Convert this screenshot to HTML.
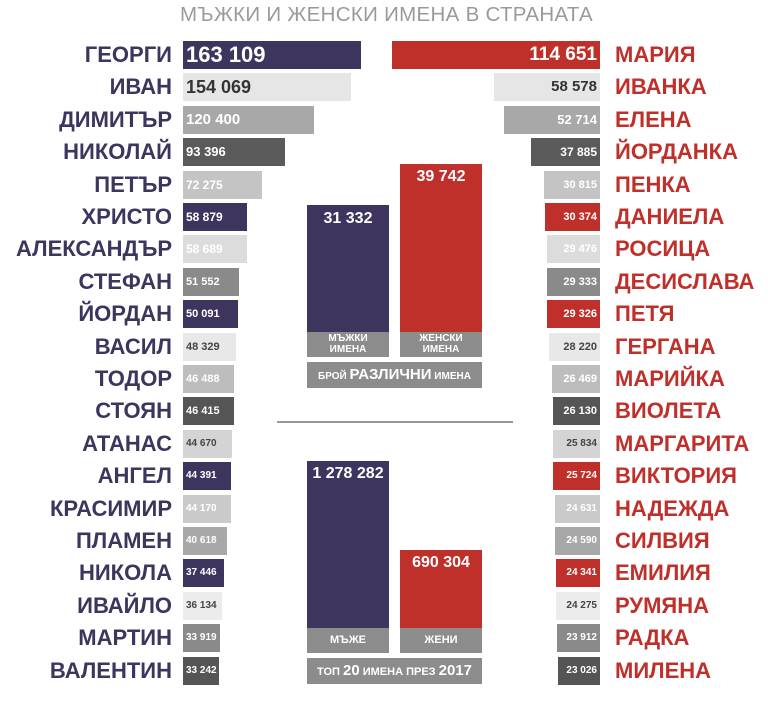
<!DOCTYPE html>
<html><head><meta charset="utf-8"><style>
body{margin:0;background:#fff;width:768px;height:714px;position:relative;overflow:hidden;font-family:"Liberation Sans",sans-serif}
.a{position:absolute}
.n{position:absolute;font-weight:bold;font-size:22px;line-height:28px;white-space:nowrap}
.l{color:#3d355e;text-align:right;right:596px}
.r{color:#c0302b;left:615px}
.b{position:absolute;height:28px;font-weight:bold;line-height:28px;white-space:nowrap;box-sizing:border-box;color:#fff}
.bl{padding-left:3px}
.br{text-align:right;padding-right:3px}
.c{position:absolute;color:#fff;font-weight:bold;text-align:center}
</style></head><body>
<div class="a" style="left:180px;top:3px;font-size:20.5px;color:#9a9a9a;letter-spacing:0.3px">МЪЖКИ И ЖЕНСКИ ИМЕНА В СТРАНАТА</div>
<div id="rows"></div>
<div class="a" style="left:307px;top:205px;width:82px;height:127px;background:#3d355e"></div>
<div class="c" style="left:307px;top:210px;width:82px;font-size:16px">31 332</div>
<div class="a" style="left:400px;top:164px;width:82px;height:168px;background:#c0302b"></div>
<div class="c" style="left:400px;top:168px;width:82px;font-size:16px">39 742</div>
<div class="c" style="left:307px;top:332px;width:82px;height:25px;background:#8c8c8c;font-size:10px;line-height:11px;padding-top:1px;box-sizing:border-box">МЪЖКИ<br>ИМЕНА</div>
<div class="c" style="left:400px;top:332px;width:82px;height:25px;background:#8c8c8c;font-size:10px;line-height:11px;padding-top:1px;box-sizing:border-box">ЖЕНСКИ<br>ИМЕНА</div>
<div class="c" style="left:307px;top:362px;width:175px;height:26px;background:#8c8c8c;font-size:10px;line-height:26px">БРОЙ <span style="font-size:15px">РАЗЛИЧНИ</span> ИМЕНА</div>
<div class="a" style="left:277px;top:421px;width:236px;height:2px;background:#999"></div>
<div class="a" style="left:307px;top:461px;width:82px;height:167px;background:#3d355e"></div>
<div class="c" style="left:307px;top:465px;width:82px;font-size:16px">1 278 282</div>
<div class="a" style="left:400px;top:550px;width:82px;height:78px;background:#c0302b"></div>
<div class="c" style="left:400px;top:554px;width:82px;font-size:16px">690 304</div>
<div class="c" style="left:307px;top:628px;width:82px;height:25px;background:#8c8c8c;font-size:11px;line-height:25px">МЪЖЕ</div>
<div class="c" style="left:400px;top:628px;width:82px;height:25px;background:#8c8c8c;font-size:11px;line-height:25px">ЖЕНИ</div>
<div class="c" style="left:307px;top:658px;width:175px;height:26px;background:#8c8c8c;font-size:11px;line-height:26px">ТОП <span style="font-size:15px">20</span> ИМЕНА ПРЕЗ <span style="font-size:15px">2017</span></div>
<script>
var L=[["ГЕОРГИ",163109,"163 109"],["ИВАН",154069,"154 069"],["ДИМИТЪР",120400,"120 400"],["НИКОЛАЙ",93396,"93 396"],["ПЕТЪР",72275,"72 275"],["ХРИСТО",58879,"58 879"],["АЛЕКСАНДЪР",58689,"58 689"],["СТЕФАН",51552,"51 552"],["ЙОРДАН",50091,"50 091"],["ВАСИЛ",48329,"48 329"],["ТОДОР",46488,"46 488"],["СТОЯН",46415,"46 415"],["АТАНАС",44670,"44 670"],["АНГЕЛ",44391,"44 391"],["КРАСИМИР",44170,"44 170"],["ПЛАМЕН",40618,"40 618"],["НИКОЛА",37446,"37 446"],["ИВАЙЛО",36134,"36 134"],["МАРТИН",33919,"33 919"],["ВАЛЕНТИН",33242,"33 242"]];
var R=[["МАРИЯ",114651,"114 651"],["ИВАНКА",58578,"58 578"],["ЕЛЕНА",52714,"52 714"],["ЙОРДАНКА",37885,"37 885"],["ПЕНКА",30815,"30 815"],["ДАНИЕЛА",30374,"30 374"],["РОСИЦА",29476,"29 476"],["ДЕСИСЛАВА",29333,"29 333"],["ПЕТЯ",29326,"29 326"],["ГЕРГАНА",28220,"28 220"],["МАРИЙКА",26469,"26 469"],["ВИОЛЕТА",26130,"26 130"],["МАРГАРИТА",25834,"25 834"],["ВИКТОРИЯ",25724,"25 724"],["НАДЕЖДА",24631,"24 631"],["СИЛВИЯ",24590,"24 590"],["ЕМИЛИЯ",24341,"24 341"],["РУМЯНА",24275,"24 275"],["РАДКА",23912,"23 912"],["МИЛЕНА",23026,"23 026"]];
var C=[["A","#fff"],["#e6e6e6","#333"],["#a8a8a8","#fff"],["#5a5a5a","#fff"],["#c4c4c4","#fff"],["A","#fff"],["#dcdcdc","#fff"],["#8a8a8a","#fff"],["A","#fff"],["#e8e8e8","#444"],["#bdbdbd","#fff"],["#555","#fff"],["#d4d4d4","#444"],["A","#fff"],["#cacaca","#fff"],["#a8a8a8","#fff"],["A","#fff"],["#ececec","#444"],["#8a8a8a","#fff"],["#555","#fff"]];
var FL=[22,18,15,13,12,12,12,11,11,11,11,11,10,10,10,10,10,10,10,10];
var FR=[19,15,13,12,11,11,11,11,11,11,11,11,10,10,10,10,10,10,10,10];
var h="";
for(var i=0;i<20;i++){
 var y=Math.round(41+i*32.4);
 var wl=Math.round(L[i][1]*178/163109), wr=Math.round(R[i][1]*208/114651);
 var cl=C[i][0]=="A"?"#3d355e":C[i][0], cr=C[i][0]=="A"?"#c0302b":C[i][0];
 h+='<div class="n l" style="top:'+y+'px">'+L[i][0]+'</div>';
 h+='<div class="n r" style="top:'+y+'px">'+R[i][0]+'</div>';
 h+='<div class="b bl" style="left:183px;top:'+y+'px;width:'+wl+'px;background:'+cl+';color:'+C[i][1]+';font-size:'+FL[i]+'px">'+L[i][2]+'</div>';
 h+='<div class="b br" style="left:'+(600-wr)+'px;top:'+y+'px;width:'+wr+'px;background:'+cr+';color:'+C[i][1]+';font-size:'+FR[i]+'px">'+R[i][2]+'</div>';
}
document.getElementById("rows").innerHTML=h;
</script>
</body></html>
